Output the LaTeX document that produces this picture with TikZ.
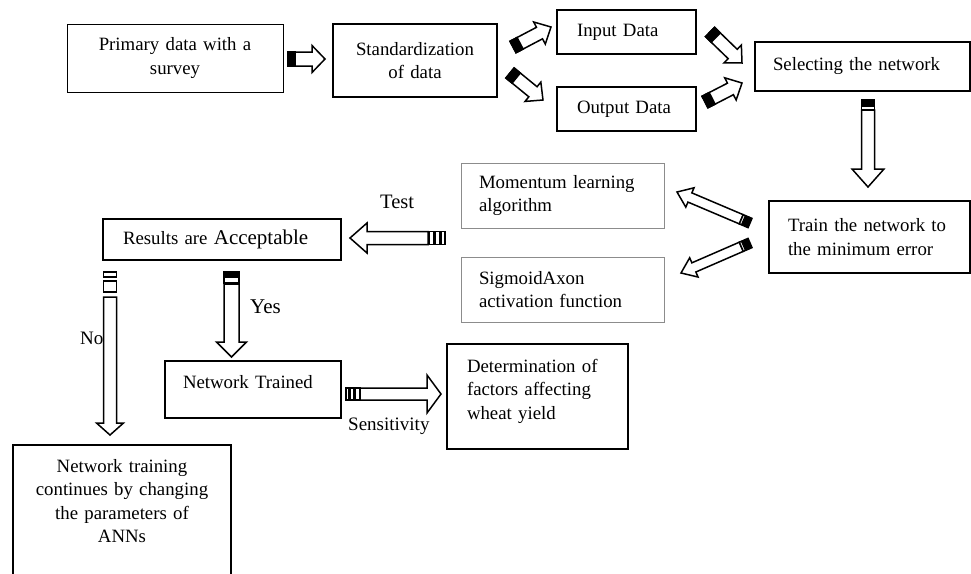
\documentclass[tikz,border=0pt]{standalone}
\usepackage{fontspec}
\setmainfont{Liberation Serif}
\usetikzlibrary{calc}
\newcommand\fs{\fontsize{18.8}{23.5}\selectfont}
\newcommand\tseg[3]{\draw[barrow,#3] (#1pt,-\bahs pt) rectangle (#2pt,\bahs pt);}
% #1 tail, #2 tip, #3 half shaft, #4 half head, #5 head length, #6 shaft start, #7 tail decoration
\newcommand\blockarrow[7]{%
  \path let \p1=($(#2)-(#1)$) in \pgfextra{%
    \pgfmathparse{atan2(\y1,\x1)}\xdef\baang{\pgfmathresult}%
    \pgfmathparse{veclen(\x1,\y1)}\xdef\balen{\pgfmathresult}};
  \def\bahs{#3}%
  \begin{scope}[shift={(#1)}, rotate=\baang]
    \draw[barrow] (#6pt,-#3pt) -- ({\balen pt-#5pt},-#3pt) -- ({\balen pt-#5pt},-#4pt)
      -- (\balen pt,0pt) -- ({\balen pt-#5pt},#4pt) -- ({\balen pt-#5pt},#3pt) -- (#6pt,#3pt) -- cycle;
    #7
  \end{scope}}
\tikzset{
  box/.style={draw, line width=1.3pt, inner ysep=0pt, outer sep=0pt, font=\fs, anchor=north west},
  graybox/.style={box, draw=black!45, line width=0.8pt},
  barrow/.style={draw=black, fill=white, line width=1.5pt, line join=miter},
  lbl/.style={anchor=base west, inner sep=0pt},
}
\begin{document}
\begin{tikzpicture}[x=1pt, y=-1pt]
\clip (0,0) rectangle (971,573);
\fill[white] (0,0) rectangle (971,573);
% boxes
\node[box, line width=1pt, align=center, text width=196pt, inner xsep=10pt, minimum height=68pt] (prim) at (67,24) {Primary data with a\\survey};
\node[box, line width=1.8pt, align=center, text width=144pt, inner xsep=10pt, minimum height=73pt] (std) at (333,24) {Standardization\\of data};
\node[box, align=left, text width=99pt, inner xsep=20pt, minimum height=44pt] (inp) at (557,10) {Input Data};
\node[box, align=left, text width=99pt, inner xsep=20pt, minimum height=44pt] (outp) at (557,87) {Output Data};
\node[box, align=left, text width=179pt, inner xsep=18pt, minimum height=49pt] (sel) at (755,42) {Selecting the network};
\node[graybox, align=left, text width=167pt, inner xsep=18pt, minimum height=65pt] (mom) at (461,163) {Momentum learning\\algorithm};
\node[graybox, align=left, text width=167pt, inner xsep=18pt, minimum height=65pt] (sig) at (461,257) {SigmoidAxon\\activation function};
\node[box, align=left, text width=163pt, inner xsep=19pt, minimum height=72pt] (train) at (769,201) {Train the network to\\the minimum error};
\node[box, align=left, text width=198pt, inner xsep=20pt, minimum height=41pt] (res) at (103,219) {Results are {\fontsize{21}{23.5}\selectfont Acceptable}};
\node[box, align=left, text width=140pt, inner xsep=18pt, minimum height=57pt, text depth=16pt] (ntr) at (165,361) {Network Trained};
\node[box, align=left, text width=141pt, inner xsep=20pt, minimum height=105pt, text depth=62pt] (det) at (447,344) {Determination of\\factors affecting\\wheat yield};
\node[box, align=center, text width=208pt, inner xsep=5pt, inner ysep=14pt, text depth=120pt] (cont) at (13,445) {Network training\\continues by changing\\the parameters of\\ANNs};
% labels
\node[lbl, font=\fontsize{20.5}{22}\selectfont] (test) at (380,208) {Test};
\node[lbl, font=\fontsize{21}{22}\selectfont] (yes) at (250,313) {Yes};
\node[lbl, font=\fontsize{19}{22}\selectfont] (no) at (80,344) {No};
\node[lbl, font=\fontsize{19}{22}\selectfont] (sens) at (348,430) {Sensitivity};
% arrow end points
\coordinate (a1t) at (288,59);  \coordinate (a1h) at (325,59);
\coordinate (a2t) at (513,47);  \coordinate (a2h) at (551,27);
\coordinate (a3t) at (510,73);  \coordinate (a3h) at (543,100);
\coordinate (a4t) at (710,32);  \coordinate (a4h) at (742,63);
\coordinate (a5t) at (705,102); \coordinate (a5h) at (742,83);
\coordinate (a6t) at (868,100); \coordinate (a6h) at (868,187);
\coordinate (a7t) at (750,223); \coordinate (a7h) at (677,192);
\coordinate (a8t) at (750,243); \coordinate (a8h) at (681,273);
\coordinate (a9t) at (445,238); \coordinate (a9h) at (350,238);
\coordinate (a10t) at (110,272); \coordinate (a10h) at (110,435);
\coordinate (a11t) at (231.5,272); \coordinate (a11h) at (231.5,357);
\coordinate (a12t) at (346,394); \coordinate (a12h) at (441,394);
% block arrows
\blockarrow{a1t}{a1h}{7}{13.5}{13}{0}{\tseg{0}{7}{fill=black}}
\blockarrow{a2t}{a2h}{6.5}{12.5}{13}{0}{\tseg{0}{8}{fill=black}}
\blockarrow{a3t}{a3h}{6.5}{12.5}{13}{0}{\tseg{0}{8}{fill=black}}
\blockarrow{a4t}{a4h}{6.5}{12.5}{13}{0}{\tseg{0}{8}{fill=black}}
\blockarrow{a5t}{a5h}{6.5}{12.5}{13}{0}{\tseg{0}{8}{fill=black}}
\blockarrow{a6t}{a6h}{6.5}{16}{18}{10}{\tseg{0}{3}{fill=black}\tseg{4.5}{6}{fill=black}\tseg{6}{10}{}}
\blockarrow{a7t}{a7h}{5}{10.5}{14}{9.5}{\tseg{0}{2.5}{fill=black}\tseg{3.5}{6}{fill=black}\tseg{7}{9.5}{}}
\blockarrow{a8t}{a8h}{5}{10.5}{14}{9.5}{\tseg{0}{2.5}{fill=black}\tseg{3.5}{6}{fill=black}\tseg{7}{9.5}{}}
\blockarrow{a9t}{a9h}{6.5}{15}{17}{17}{\tseg{0}{4}{}\tseg{5.5}{10}{}\tseg{11.5}{16}{}}
\blockarrow{a10t}{a10h}{6.5}{13.5}{12}{25}{\tseg{0}{5}{}\tseg{9}{20}{}}
\blockarrow{a11t}{a11h}{7.5}{15}{15}{12}{\tseg{0}{4}{fill=black}\tseg{5.5}{11}{}}
\blockarrow{a12t}{a12h}{6}{19}{14}{14}{\tseg{0}{3}{}\tseg{4.5}{7.5}{}\tseg{9}{14}{}}
\end{tikzpicture}
\end{document}
